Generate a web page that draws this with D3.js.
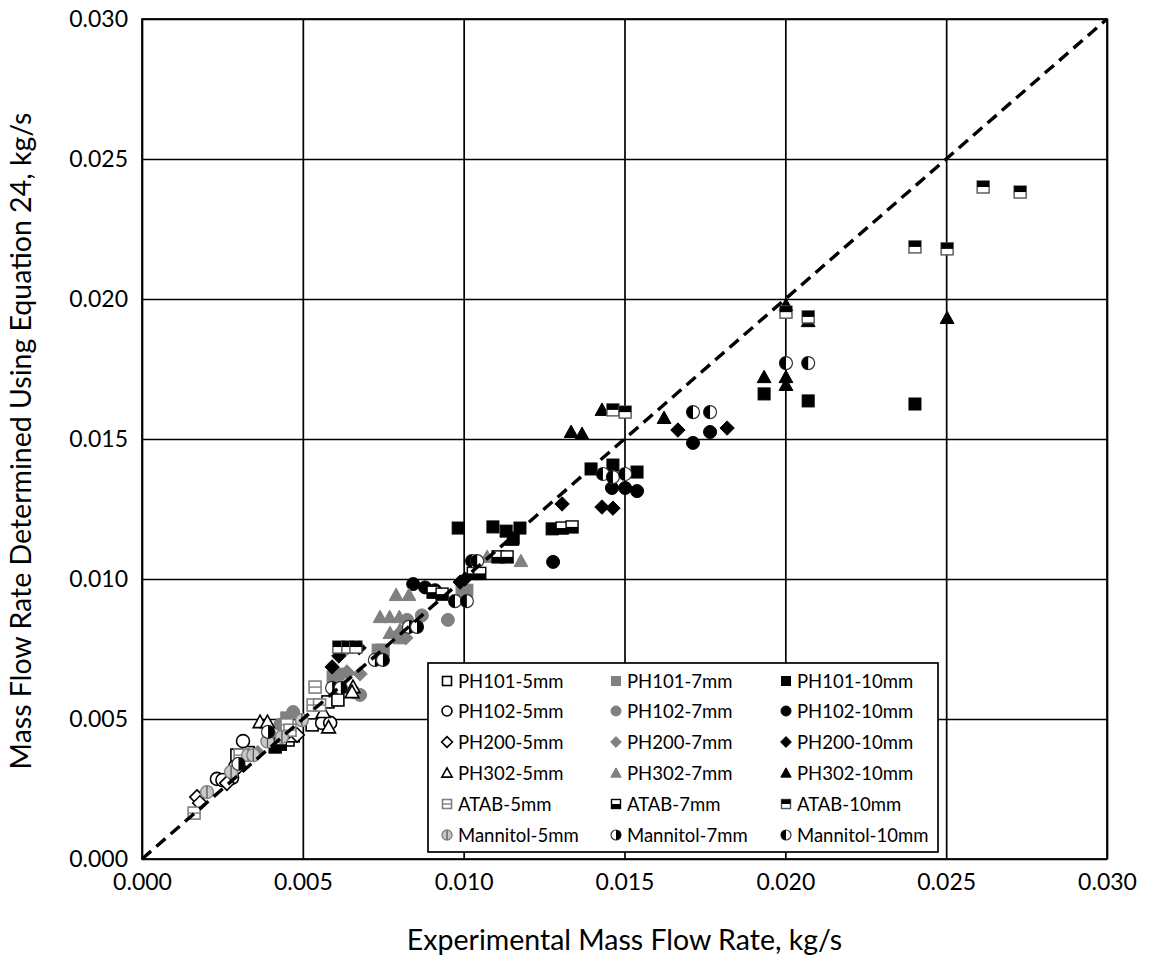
<!DOCTYPE html>
<html><head><meta charset="utf-8">
<script src="https://cdn.jsdelivr.net/npm/d3@7"></script>
<style>
html,body{margin:0;padding:0;background:#fff;}
svg text{font-family:Lato,"Open Sans",sans-serif;fill:#000;}
</style></head>
<body>
<svg id="chart" width="1150" height="958"></svg>
<script>
// ---- data ----
const tickValues = [0, 0.005, 0.010, 0.015, 0.020, 0.025, 0.030];
const xTitle = "Experimental Mass Flow Rate, kg/s";
const yTitle = "Mass Flow Rate Determined Using Equation 24, kg/s";

const PH101_5mm = [[0.00295,0.00371],[0.00330,0.00380],[0.00454,0.00425],[0.00470,0.00440],[0.00529,0.00479],[0.00578,0.00561],[0.00609,0.00568]];
const PH102_5mm = [[0.00233,0.00286],[0.00250,0.00282],[0.00280,0.00290],[0.00314,0.00421],[0.00560,0.00486],[0.00585,0.00486],[0.00290,0.00330]];
const PH200_5mm = [[0.00171,0.00221],[0.00180,0.00200],[0.00264,0.00271],[0.00300,0.00330],[0.00482,0.00443],[0.00455,0.00455]];
const PH302_5mm = [[0.00367,0.00489],[0.00390,0.00489],[0.00563,0.00525],[0.00656,0.00614],[0.00580,0.00470],[0.00653,0.00596]];
const ATAB_5mm = [[0.00162,0.00164],[0.00305,0.00371],[0.00451,0.00479],[0.00460,0.00460],[0.00532,0.00550],[0.00552,0.00550],[0.00538,0.00614]];
const Mannitol_5mm = [[0.00202,0.00239],[0.00277,0.00311],[0.00330,0.00371],[0.00346,0.00371],[0.00435,0.00436],[0.00497,0.00496],[0.00390,0.00420]];

const PH101_7mm = [[0.00450,0.00504],[0.00594,0.00650],[0.00610,0.00660],[0.00734,0.00746],[0.00750,0.00746],[0.00995,0.00960],[0.01010,0.00960],[0.00800,0.00790]];
const PH102_7mm = [[0.00470,0.00525],[0.00430,0.00480],[0.00678,0.00586],[0.00660,0.00595],[0.00630,0.00750],[0.00824,0.00854],[0.00870,0.00870],[0.00951,0.00854],[0.00800,0.00800]];
const PH200_7mm = [[0.00360,0.00380],[0.00400,0.00420],[0.00637,0.00668],[0.00678,0.00661],[0.00640,0.00664],[0.00800,0.00800],[0.00820,0.00790]];
const PH302_7mm = [[0.00740,0.00864],[0.00770,0.00864],[0.00800,0.00864],[0.00790,0.00943],[0.00830,0.00943],[0.00771,0.00807],[0.00802,0.00818],[0.01073,0.01079],[0.01178,0.01064],[0.00410,0.00440]];
const ATAB_7mm = [[0.00414,0.00400],[0.00430,0.00410],[0.00905,0.00953],[0.00933,0.00946],[0.01030,0.01020],[0.01050,0.01020],[0.01107,0.01079],[0.01135,0.01079],[0.01306,0.01182],[0.01337,0.01186]];
const Mannitol_7mm = [[0.00300,0.00340],[0.00392,0.00454],[0.00591,0.00611],[0.00618,0.00611],[0.00724,0.00711],[0.00749,0.00711],[0.00830,0.00829],[0.00855,0.00829]];

const PH101_10mm = [[0.00983,0.01182],[0.01091,0.01186],[0.01132,0.01171],[0.01154,0.01146],[0.01175,0.01182],[0.01275,0.01179],[0.01396,0.01393],[0.01464,0.01407],[0.01539,0.01382],[0.01934,0.01661],[0.02071,0.01636],[0.02403,0.01625]];
const PH102_10mm = [[0.00843,0.00982],[0.00880,0.00970],[0.00911,0.00960],[0.01278,0.01061],[0.01461,0.01325],[0.01502,0.01325],[0.01539,0.01314],[0.01713,0.01486],[0.01766,0.01525]];
const PH200_10mm = [[0.00591,0.00686],[0.00612,0.00725],[0.00675,0.00754],[0.00989,0.00989],[0.01004,0.01000],[0.01306,0.01268],[0.01430,0.01257],[0.01464,0.01253],[0.01666,0.01532],[0.01819,0.01539]];
const PH302_10mm = [[0.01150,0.01140],[0.01334,0.01525],[0.01368,0.01518],[0.01430,0.01604],[0.01623,0.01575],[0.01934,0.01721],[0.02002,0.01721],[0.02002,0.01693],[0.02002,0.01978],[0.02071,0.01921],[0.02503,0.01932]];
const ATAB_10mm = [[0.00612,0.00757],[0.00640,0.00757],[0.00665,0.00757],[0.01464,0.01604],[0.01502,0.01596],[0.02002,0.01953],[0.02071,0.01936],[0.02403,0.02186],[0.02503,0.02179],[0.02615,0.02400],[0.02730,0.02382]];
const Mannitol_10mm = [[0.00973,0.00921],[0.01010,0.00921],[0.01026,0.01064],[0.01042,0.01064],[0.01433,0.01375],[0.01464,0.01364],[0.01502,0.01375],[0.01713,0.01596],[0.01766,0.01596],[0.02002,0.01771],[0.02071,0.01771]];

const parityLine = [[0,0],[0.030,0.030]];

// legend order (row-major, 3 columns)
const series = [
  {name:"PH101-5mm", data:PH101_5mm, shape:"square", style:"open"},
  {name:"PH101-7mm", data:PH101_7mm, shape:"square", style:"gray"},
  {name:"PH101-10mm", data:PH101_10mm, shape:"square", style:"black"},
  {name:"PH102-5mm", data:PH102_5mm, shape:"circle", style:"open"},
  {name:"PH102-7mm", data:PH102_7mm, shape:"circle", style:"gray"},
  {name:"PH102-10mm", data:PH102_10mm, shape:"circle", style:"black"},
  {name:"PH200-5mm", data:PH200_5mm, shape:"diamond", style:"open"},
  {name:"PH200-7mm", data:PH200_7mm, shape:"diamond", style:"gray"},
  {name:"PH200-10mm", data:PH200_10mm, shape:"diamond", style:"black"},
  {name:"PH302-5mm", data:PH302_5mm, shape:"triangle", style:"open"},
  {name:"PH302-7mm", data:PH302_7mm, shape:"triangle", style:"gray"},
  {name:"PH302-10mm", data:PH302_10mm, shape:"triangle", style:"black"},
  {name:"ATAB-5mm", data:ATAB_5mm, shape:"atab5", style:""},
  {name:"ATAB-7mm", data:ATAB_7mm, shape:"atab7", style:""},
  {name:"ATAB-10mm", data:ATAB_10mm, shape:"atab10", style:""},
  {name:"Mannitol-5mm", data:Mannitol_5mm, shape:"man5", style:""},
  {name:"Mannitol-7mm", data:Mannitol_7mm, shape:"man7", style:""},
  {name:"Mannitol-10mm", data:Mannitol_10mm, shape:"man10", style:""}
];

// ---- layout ----
const svg = d3.select("#chart");
const L = 142, R = 1107, T = 19, B = 859;
const x = d3.scaleLinear().domain([0, 0.030]).range([L, R]);
const y = d3.scaleLinear().domain([0, 0.030]).range([B, T]);
const fmt = d3.format(".3f");

// gridlines
const grid = svg.append("g");
grid.append("g").attr("transform", `translate(0,${B})`)
  .call(d3.axisBottom(x).tickValues(tickValues).tickSize(-(B - T)).tickFormat(""))
  .call(g => { g.select(".domain").remove(); g.selectAll("line").attr("stroke", "#000").attr("stroke-width", 1.7); });
grid.append("g").attr("transform", `translate(${L},0)`)
  .call(d3.axisLeft(y).tickValues(tickValues).tickSize(-(R - L)).tickFormat(""))
  .call(g => { g.select(".domain").remove(); g.selectAll("line").attr("stroke", "#000").attr("stroke-width", 1.7); });
svg.append("rect").attr("x", L).attr("y", T).attr("width", R - L).attr("height", B - T)
  .attr("fill", "none").attr("stroke", "#000").attr("stroke-width", 1.7);

// axes labels
svg.append("g").attr("transform", `translate(0,${B})`)
  .call(d3.axisBottom(x).tickValues(tickValues).tickSize(0).tickPadding(15).tickFormat(fmt))
  .call(g => { g.select(".domain").remove(); g.selectAll("text").attr("font-size", 23).attr("font-family", "Lato"); });
svg.append("g").attr("transform", `translate(${L},0)`)
  .call(d3.axisLeft(y).tickValues(tickValues).tickSize(0).tickPadding(14).tickFormat(fmt))
  .call(g => { g.select(".domain").remove(); g.selectAll("text").attr("font-size", 23).attr("font-family", "Lato"); });

svg.append("text").attr("x", (L + R) / 2).attr("y", 950).attr("text-anchor", "middle")
  .attr("font-size", 28.5).text(xTitle);
svg.append("text").attr("transform", `translate(31,${(T + B) / 2 + 2}) rotate(-90)`).attr("text-anchor", "middle")
  .attr("font-size", 28.5).text(yTitle);

// ---- marker drawing ----
const GRAY = "#808080";
function drawMarker(g, shape, style, s) {
  const h = s / 2;
  const fill = style === "black" ? "#000" : style === "gray" ? GRAY : "#fff";
  const stroke = style === "gray" ? GRAY : "#000";
  const sw = style === "open" ? 1.6 : 1;
  if (shape === "square") {
    g.append("rect").attr("x", -h).attr("y", -h).attr("width", s).attr("height", s)
      .attr("fill", fill).attr("stroke", stroke).attr("stroke-width", sw);
  } else if (shape === "circle") {
    g.append("circle").attr("r", h + 0.5).attr("fill", fill).attr("stroke", stroke).attr("stroke-width", sw);
  } else if (shape === "diamond") {
    const d = h * 1.2;
    g.append("path").attr("d", `M0,${-d}L${d},0L0,${d}L${-d},0Z`)
      .attr("fill", fill).attr("stroke", stroke).attr("stroke-width", sw);
  } else if (shape === "triangle") {
    const w = h * 1.15;
    g.append("path").attr("d", `M0,${-w}L${w},${w * 0.8}L${-w},${w * 0.8}Z`)
      .attr("fill", fill).attr("stroke", stroke).attr("stroke-width", sw);
  } else if (shape === "atab5") {
    g.append("rect").attr("x", -h).attr("y", -h).attr("width", s).attr("height", s)
      .attr("fill", "#fff").attr("stroke", GRAY).attr("stroke-width", 1.6);
    g.append("line").attr("x1", -h).attr("x2", h).attr("y1", 0).attr("y2", 0)
      .attr("stroke", GRAY).attr("stroke-width", 1.4);
  } else if (shape === "atab7") {
    g.append("rect").attr("x", -h).attr("y", -h).attr("width", s).attr("height", s)
      .attr("fill", "#fff").attr("stroke", "#000").attr("stroke-width", 1.4);
    g.append("rect").attr("x", -h).attr("y", 0).attr("width", s).attr("height", h)
      .attr("fill", "#000");
  } else if (shape === "atab10") {
    g.append("rect").attr("x", -h).attr("y", -h).attr("width", s).attr("height", s)
      .attr("fill", "#fff").attr("stroke", "#555").attr("stroke-width", 1.4);
    g.append("rect").attr("x", -h).attr("y", -h).attr("width", s).attr("height", h)
      .attr("fill", "#000");
  } else if (shape === "man5") {
    g.append("circle").attr("r", h + 0.5).attr("fill", "#c8c8c8").attr("stroke", GRAY).attr("stroke-width", 1.4);
    g.append("line").attr("x1", 0).attr("x2", 0).attr("y1", -h).attr("y2", h)
      .attr("stroke", "#555").attr("stroke-width", 1.3);
  } else if (shape === "man7" || shape === "man10") {
    const r = h + 0.5;
    g.append("circle").attr("r", r).attr("fill", "#fff").attr("stroke", "#333").attr("stroke-width", 1.2);
    const sweep = shape === "man7" ? 1 : 0;
    g.append("path").attr("d", `M0,${-r}A${r},${r} 0 0 ${sweep} 0,${r}Z`).attr("fill", "#000");
  }
}

// data points
const pts = svg.append("g");
series.forEach(se => {
  const g = pts.append("g").attr("class", "series");
  se.data.forEach(d => {
    const m = g.append("g").attr("transform", `translate(${x(d[0])},${y(d[1])})`);
    drawMarker(m, se.shape, se.style, 12);
  });
});

// parity line
svg.append("line")
  .attr("x1", x(parityLine[0][0])).attr("y1", y(parityLine[0][1]))
  .attr("x2", x(parityLine[1][0])).attr("y2", y(parityLine[1][1]))
  .attr("stroke", "#000").attr("stroke-width", 3.4).attr("stroke-dasharray", "12,7");

// legend
const lg = svg.append("g");
lg.append("rect").attr("x", 428).attr("y", 663).attr("width", 510).attr("height", 189)
  .attr("fill", "#fff").attr("stroke", "#000").attr("stroke-width", 1.7);
const colX = [447, 616, 786];
const rowY = [681, 711, 742, 773, 804, 835];
series.forEach((se, i) => {
  const c = i % 3, r = Math.floor(i / 3);
  const m = lg.append("g").attr("transform", `translate(${colX[c]},${rowY[r]})`);
  drawMarker(m, se.shape, se.style, 9);
  lg.append("text").attr("x", colX[c] + 11).attr("y", rowY[r]).attr("dy", "0.36em")
    .attr("font-size", 18.5).text(se.name);
});
</script>
</body></html>
